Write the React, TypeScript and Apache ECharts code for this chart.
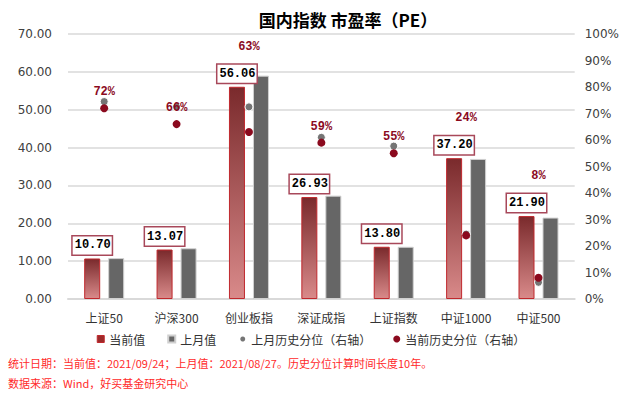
import React, { useEffect, useRef } from "react";
import * as echarts from "echarts";

const categories = ["上证50", "沪深300", "创业板指", "深证成指", "上证指数", "中证1000", "中证500"];
const currentPE = [10.7, 13.07, 56.06, 26.93, 13.8, 37.2, 21.9];
const lastMonthPE = [10.8, 13.4, 59.0, 27.3, 13.8, 37.0, 21.5];
const lastMonthPct = [74.5, 72.5, 72.5, 61, 57.7, 24.5, 6.3];
const currentPct = [72, 66, 63, 59, 55, 24, 8];
const leftTicks = { min: 0, max: 70, interval: 10 };
const rightTicks = { min: 0, max: 100, interval: 10 };
const footnote1 = "统计日期：当前值：2021/09/24；上月值：2021/08/27。历史分位计算时间长度10年。";
const footnote2 = "数据来源：Wind，好买基金研究中心";
const title = "国内指数 市盈率（PE）";

const GRID = { left: 68, right: 44, top: 34, bottom: 95 };
const H = 394 - GRID.top - GRID.bottom;

export default function App() {
  const ref = useRef<HTMLDivElement>(null);
  useEffect(() => {
    if (!ref.current) return;
    const chart = echarts.init(ref.current, undefined, { renderer: "svg" });
    const cjk = "'Noto Sans CJK SC', sans-serif";
    const dotPx = (p: number) => H * (1 - p / rightTicks.max);
    const barPx = (v: number) => H * (1 - v / leftTicks.max);
    const pctData = currentPct.map((p, i) => {
      const target = Math.min(dotPx(p) - 16, barPx(currentPE[i]) - 40);
      return { value: p, label: { offset: [0, target - dotPx(p)] } };
    });
    chart.setOption({
      animation: false,
      title: {
        text: title,
        left: 343,
        textAlign: "center",
        top: 6,
        textStyle: { fontFamily: cjk, fontSize: 17, fontWeight: "bold", color: "#000" },
      },
      grid: GRID,
      legend: {
        bottom: 44,
        left: "center",
        itemWidth: 7,
        itemHeight: 7,
        itemGap: 22,
        textStyle: { fontFamily: cjk, fontSize: 12, color: "#333" },
        data: [
          { name: "当前值", icon: "rect", itemStyle: { color: "#9c2a2a", borderColor: "#c0282d", borderWidth: 1 } },
          { name: "上月值", icon: "rect", itemStyle: { color: "#666666" } },
          { name: "上月历史分位（右轴）", icon: "circle" },
          { name: "当前历史分位（右轴）", icon: "circle" },
        ],
      },
      xAxis: {
        type: "category",
        data: categories,
        axisTick: { show: false },
        axisLine: { lineStyle: { color: "#d9d9d9", width: 2 } },
        axisLabel: { fontFamily: cjk, fontSize: 12, color: "#333", margin: 12 },
      },
      yAxis: [
        {
          type: "value",
          ...leftTicks,
          axisLabel: {
            formatter: (v: number) => v.toFixed(2),
            fontFamily: "'DejaVu Sans', sans-serif",
            fontSize: 12,
            color: "#404040",
            margin: 16,
          },
          splitLine: { lineStyle: { color: "#d9d9d9", width: 1.5 } },
          axisLine: { show: false },
          axisTick: { show: false },
        },
        {
          type: "value",
          ...rightTicks,
          position: "right",
          axisLabel: {
            formatter: "{value}%",
            fontFamily: "'DejaVu Sans', sans-serif",
            fontSize: 12,
            color: "#404040",
            margin: 10,
          },
          splitLine: { show: false },
          axisLine: { show: false },
          axisTick: { show: false },
        },
      ],
      series: [
        {
          name: "当前值",
          type: "bar",
          data: currentPE,
          barWidth: 16,
          barGap: "50%",
          itemStyle: {
            color: new echarts.graphic.LinearGradient(0, 0, 0, 1, [
              { offset: 0, color: "#7a2a2c" },
              { offset: 1, color: "#d98a8a" },
            ]),
            borderColor: "#c0282d",
            borderWidth: 1,
          },
          label: {
            show: true,
            position: "top",
            distance: 4,
            formatter: (p: any) => p.value.toFixed(2),
            fontFamily: "'Liberation Mono', monospace",
            fontWeight: "bold",
            fontSize: 12,
            color: "#000",
            backgroundColor: "#fff",
            borderColor: "#a8485a",
            borderWidth: 1.5,
            padding: [3, 1, 3, 2],
          },
          z: 2,
        },
        {
          name: "上月值",
          type: "bar",
          data: lastMonthPE,
          barWidth: 16,
          itemStyle: { color: "#666666", borderColor: "#d0d0d0", borderWidth: 1 },
          z: 1,
        },
        {
          name: "上月历史分位（右轴）",
          type: "scatter",
          yAxisIndex: 1,
          data: lastMonthPct,
          symbolSize: 8,
          itemStyle: { color: "#757575", borderColor: "#fff", borderWidth: 1, opacity: 1 },
          z: 3,
        },
        {
          name: "当前历史分位（右轴）",
          type: "scatter",
          yAxisIndex: 1,
          data: pctData,
          symbolSize: 8,
          itemStyle: { color: "#8b0a1e", opacity: 1 },
          label: {
            show: true,
            position: "inside",
            formatter: (p: any) => Math.round(p.value) + "%",
            fontFamily: "'Liberation Mono', monospace",
            fontWeight: "bold",
            fontSize: 12,
            color: "#8b0a1e",
          },
          z: 4,
        },
      ],
      graphic: [
        {
          type: "text",
          left: 8,
          top: 357,
          style: { text: footnote1, fontFamily: cjk, fontSize: 11, fill: "#ff2a2a" },
        },
        {
          type: "text",
          left: 8,
          top: 377,
          style: { text: footnote2, fontFamily: cjk, fontSize: 11, fill: "#ff2a2a" },
        },
      ],
    });
    return () => chart.dispose();
  }, []);
  return <div ref={ref} style={{ width: 622, height: 394, position: "absolute", left: 0, top: 0 }} />;
}
